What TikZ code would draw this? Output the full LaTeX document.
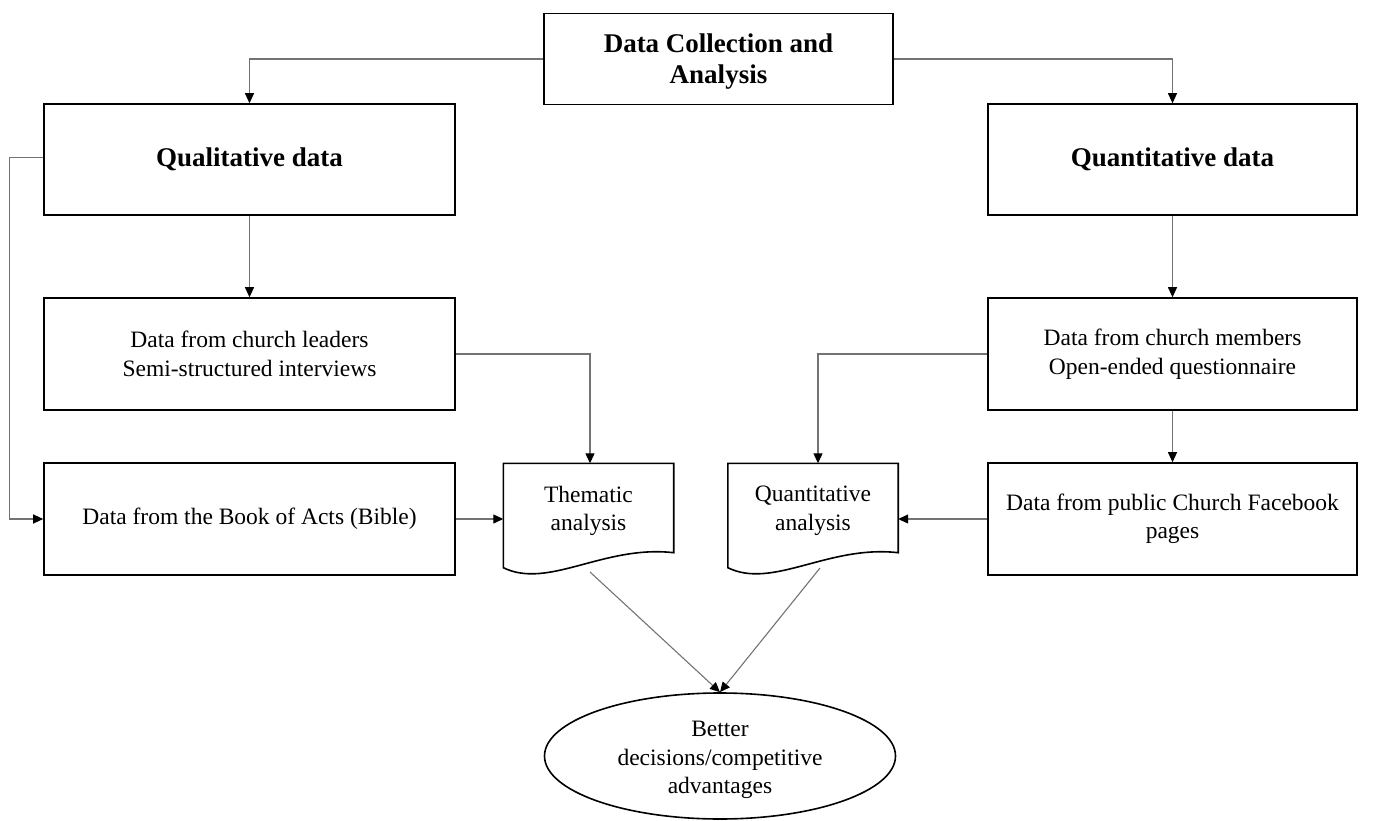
\documentclass[tikz,border=0pt]{standalone}
\usepackage{fontspec}
\setmainfont{Liberation Serif}
\usetikzlibrary{arrows.meta,shapes.geometric}
\begin{document}
\begin{tikzpicture}[x=1pt,y=-1pt,
  txt/.style={font=\fontsize{23.5}{28.5}\selectfont},
  head/.style={font=\fontsize{27}{31}\selectfont\bfseries},
  box/.style={draw=black,line width=1.6pt,minimum width=#1,inner sep=0pt,align=center,txt},
  box/.default=411pt,
  doc/.style={minimum width=170pt,minimum height=111pt,inner sep=0pt},
  tip/.tip={Triangle[color=black,length=10pt,width=9pt]},
  link/.style={draw=black!55,line width=1.1pt,-tip}]
\useasboundingbox (0,0) rectangle (1374,821);

% main boxes
\node[box=349pt,minimum height=91pt,head] (top) at (718.5,59)
  {\rule{0pt}{24pt}Data Collection and\\Analysis};
\node[box,minimum height=111pt,head] (qual) at (249.5,159.5) {Qualitative data};
\node[box=369pt,minimum height=111pt,head] (quant) at (1172.5,159.5) {Quantitative data};
\node[box,minimum height=112pt] (lead) at (249.5,354) {Data from church leaders\\Semi-structured interviews};
\node[box=369pt,minimum height=112pt] (memb) at (1172.5,354) {Data from church members\\Open-ended questionnaire};
\node[box,minimum height=112pt] (acts) at (249.5,519) {Data from the Book of Acts (Bible)};
\node[box=369pt,minimum height=112pt] (fb) at (1172.5,519) {Data from public Church Facebook\\pages};

% document-shaped analysis nodes: straight top and sides, wavy bottom
\node[doc] (thm) at (588.5,519) {};
\node[doc] (qa) at (813,519) {};
\foreach \d in {thm,qa}{
  \draw[line width=1.6pt,line join=miter]
    ([yshift=7pt]\d.south west) -- (\d.north west) -- (\d.north east) -- ([yshift=22pt]\d.south east)
    .. controls ([xshift=-70pt,yshift=30pt]\d.south east) and ([xshift=45pt,yshift=-15pt]\d.south west)
    .. cycle;
}
\node[align=center,txt] (thmtext) at (588.5,511) {Thematic\\analysis};
\node[align=center,txt] (qatext) at (813,511) {Quantitative\\analysis};

% outcome
\node[draw=black,line width=1.6pt,ellipse,minimum width=351pt,minimum height=126pt,inner sep=0pt] (out) at (720,756) {};
\node[align=center,txt] (outtext) at (720,760) {Better\\decisions/competitive\\advantages};

% connectors
\draw[link] (top.west) -| (qual.north);
\draw[link] (top.east) -| (quant.north);
\draw[link] (qual.south) -- (lead.north);
\draw[link] (quant.south) -- (memb.north);
\coordinate (qualout) at ([yshift=2pt]qual.west);
\draw[link] (qualout) -- ++(-34,0) |- (acts.west);
\draw[link] (lead.east) -| ([xshift=1.5pt]thm.north);
\draw[link] (memb.west) -| ([xshift=5pt]qa.north);
\draw[link] (memb.south) -- (fb.north);
\draw[link] (acts.east) -- (thm.west);
\draw[link] (fb.west) -- (qa.east);
\coordinate (thmb) at (590,572);
\coordinate (qab) at (820,568);
\draw[link] (thmb) -- (out.north);
\draw[link] (qab) -- (out.north);
\end{tikzpicture}
\end{document}
